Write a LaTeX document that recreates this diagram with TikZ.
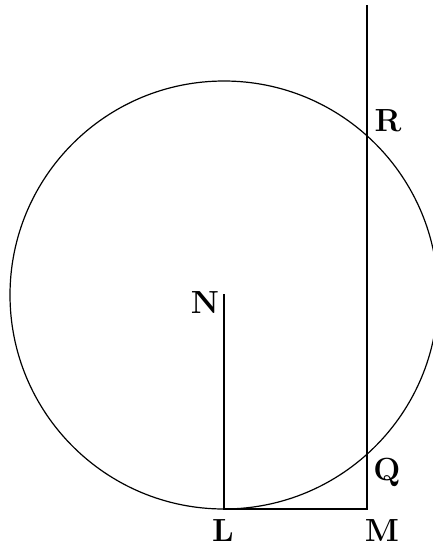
\documentclass[tikz,border=0pt]{standalone}
\usepackage{amsmath}
\usepackage{tikz}

\tikzset{lbl/.style={font=\fontsize{32}{36}\selectfont\bfseries}}

\begin{document}
\begin{tikzpicture}[x=1pt,y=-1pt,line width=1.2pt]
  \useasboundingbox (0,0) rectangle (432,547);
  \coordinate (O) at (224,295);
  \coordinate (L) at (224,509);
  \coordinate (M) at (367,509);
  \coordinate (N) at (224,294);
  \coordinate (T) at (367,5);
  \draw (O) circle [radius=214pt];
  \draw (T) -- (M) -- (L) -- (N);
  \node[lbl] (n) at (205,303) {N};
  \node[lbl] (r) at (388,121) {R};
  \node[lbl] (q) at (387,472) {Q};
  \node[lbl] (l) at (223,531) {L};
  \node[lbl] (m) at (382,531) {M};
\end{tikzpicture}
\end{document}
